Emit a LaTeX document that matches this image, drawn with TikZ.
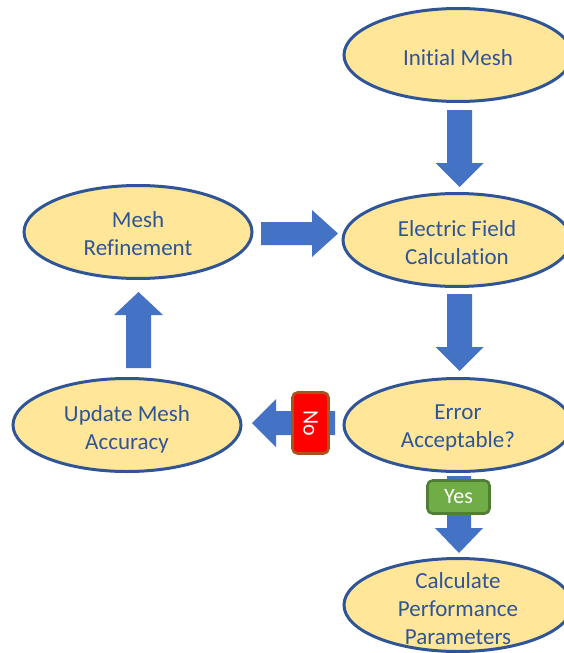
\documentclass[tikz,border=0pt]{standalone}
\usepackage{fontspec}
\setmainfont{Carlito}[Ligatures=NoCommon]
\usetikzlibrary{shapes.geometric}
\definecolor{ellfill}{HTML}{FFE699}
\definecolor{ellline}{HTML}{2F5597}
\definecolor{txtblue}{HTML}{2F5597}
\definecolor{arrowblue}{HTML}{4472C4}
\definecolor{nofill}{HTML}{FF0000}
\definecolor{noline}{HTML}{A9541C}
\definecolor{yesfill}{HTML}{70AD47}
\definecolor{yesline}{HTML}{507E32}
\tikzset{
  stage/.style={ellipse, draw=ellline, fill=ellfill, line width=3pt,
    minimum width=228pt, minimum height=93pt, inner sep=0pt},
  stagetext/.style={align=center, inner sep=0pt, text=txtblue,
    font=\fontsize{23}{28}\selectfont},
  blockarrow/.style={fill=arrowblue},
  tagbox/.style={rounded corners=5pt, line width=2.6pt, text=white,
    inner sep=0pt, font=\fontsize{22}{26}\selectfont}
}
\begin{document}
\begin{tikzpicture}[x=1pt,y=-1pt]
\useasboundingbox (0,0) rectangle (564,653);
\clip (0,0) rectangle (564,653);
\fill[white] (0,0) rectangle (564,653);
% stages
\node[stage, label={[stagetext, yshift=-3pt]center:Initial Mesh}] (init) at (458,55) {};
\node[stage, label={[stagetext, yshift=-3pt]center:Electric Field\\Calculation}] (efc) at (457,240) {};
\node[stage, label={[stagetext, yshift=-3pt]center:Error\\Acceptable?}] (err) at (458,425) {};
\node[stage, label={[stagetext, yshift=-4pt]center:Calculate\\Performance\\Parameters}] (calc) at (458,605) {};
\node[stage, label={[stagetext, yshift=-2pt]center:Mesh\\Refinement}] (ref) at (138,232) {};
\node[stage, label={[stagetext, yshift=-4pt]center:Update Mesh\\Accuracy}] (upd) at (127,425) {};
% block arrows
\fill[blockarrow] (447,110) -- (472,110) -- (472,163) -- (483.5,163) -- (459.5,187)
  -- (435.5,163) -- (447,163) -- cycle;
\fill[blockarrow] (447,294) -- (472,294) -- (472,347) -- (483.5,347) -- (459.5,371)
  -- (435.5,347) -- (447,347) -- cycle;
\fill[blockarrow] (447,476) -- (471,476) -- (471,528) -- (483,528) -- (459,553)
  -- (435,528) -- (447,528) -- cycle;
\fill[blockarrow] (261,222) -- (312,222) -- (312,210) -- (338,233.5) -- (312,257)
  -- (312,245) -- (261,245) -- cycle;
\fill[blockarrow] (335,411) -- (276,411) -- (276,399) -- (252,423) -- (276,447)
  -- (276,435) -- (335,435) -- cycle;
\fill[blockarrow] (126,368) -- (126,315) -- (114,315) -- (138.5,292) -- (163,315)
  -- (151,315) -- (151,368) -- cycle;
% tags
\node[tagbox, draw=noline, fill=nofill, minimum width=36pt, minimum height=61pt]
  (no) at (310.5,423) {\rotatebox{-90}{No}};
\node[tagbox, draw=yesline, fill=yesfill, minimum width=62pt, minimum height=33pt]
  (yes) at (458.5,497) {Yes};
\end{tikzpicture}
\end{document}
